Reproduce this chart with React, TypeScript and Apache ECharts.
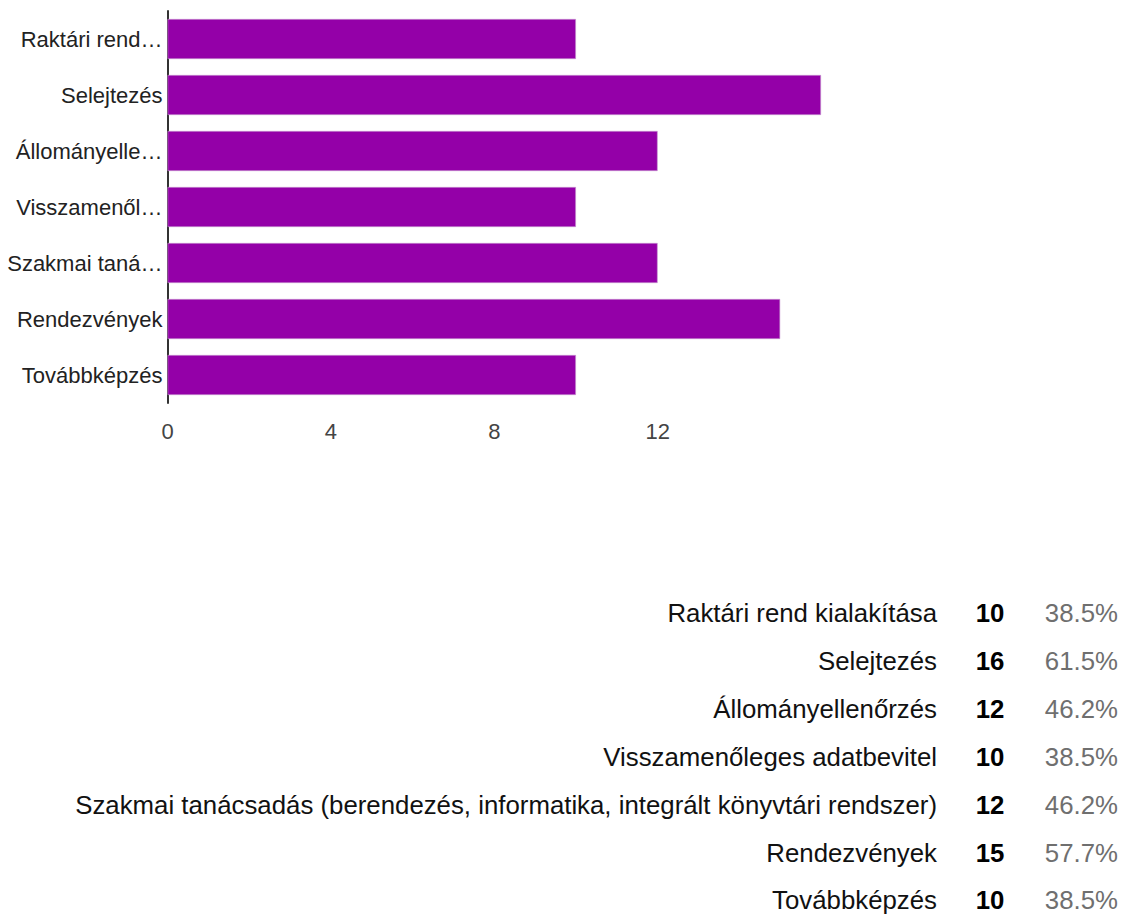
import React, { useEffect, useRef } from "react";
import * as echarts from "echarts";

const categories = [
  "Raktári rend kialakítása",
  "Selejtezés",
  "Állományellenőrzés",
  "Visszamenőleges adatbevitel",
  "Szakmai tanácsadás (berendezés, informatika, integrált könyvtári rendszer)",
  "Rendezvények",
  "Továbbképzés",
];
const axisLabels = [
  "Raktári rend…",
  "Selejtezés",
  "Állományelle…",
  "Visszamenől…",
  "Szakmai taná…",
  "Rendezvények",
  "Továbbképzés",
];
const counts = [10, 16, 12, 10, 12, 15, 10];
const percents = ["38.5%", "61.5%", "46.2%", "38.5%", "46.2%", "57.7%", "38.5%"];
const xTicks = [0, 4, 8, 12];

const FONT = "Arial, 'Liberation Sans', sans-serif";

export default function App() {
  const ref = useRef<HTMLDivElement>(null);
  useEffect(() => {
    if (!ref.current) return;
    const chart = echarts.init(ref.current, undefined, { renderer: "svg" });
    const rowY0 = 613;
    const rowStep = 47.9;
    const graphic: any[] = [];
    categories.forEach((c, i) => {
      const y = rowY0 + i * rowStep;
      graphic.push({
        type: "text",
        x: 937,
        y,
        style: { text: c, fill: "#111", font: `25.8px ${FONT}`, textAlign: "right", textVerticalAlign: "middle" },
      });
      graphic.push({
        type: "text",
        x: 990,
        y,
        style: { text: String(counts[i]), fill: "#000", font: `bold 25.8px ${FONT}`, textAlign: "center", textVerticalAlign: "middle" },
      });
      graphic.push({
        type: "text",
        x: 1118,
        y,
        style: { text: percents[i], fill: "#6f6f6f", font: `25.8px ${FONT}`, textAlign: "right", textVerticalAlign: "middle" },
      });
    });
    chart.setOption({
      animation: false,
      grid: { left: 167.5, right: 306, top: 11, height: 392, containLabel: false },
      xAxis: {
        type: "value",
        min: 0,
        max: 16,
        interval: 4,
        splitLine: { show: false },
        axisLine: { show: false },
        axisTick: { show: false },
        axisLabel: {
          margin: 17,
          fontSize: 22,
          fontFamily: FONT,
          color: "#444",
          formatter: (v: number) => (xTicks.includes(v) ? String(v) : ""),
        },
      },
      yAxis: {
        type: "category",
        inverse: true,
        data: categories,
        axisLine: { show: true, lineStyle: { color: "#333", width: 2 } },
        axisTick: { show: false },
        axisLabel: {
          margin: 5,
          fontSize: 22,
          fontFamily: FONT,
          color: "#222",
          formatter: (_v: string, idx: number) => axisLabels[idx],
        },
      },
      series: [
        {
          type: "bar",
          data: counts,
          barCategoryGap: "28.6%",
          itemStyle: { color: "#9400a8", borderColor: "#c79bd0", borderWidth: 0.6 },
        },
      ],
      graphic,
    });
    return () => chart.dispose();
  }, []);
  return <div ref={ref} style={{ position: "absolute", left: 0, top: 0, width: 1127, height: 914 }} />;
}
